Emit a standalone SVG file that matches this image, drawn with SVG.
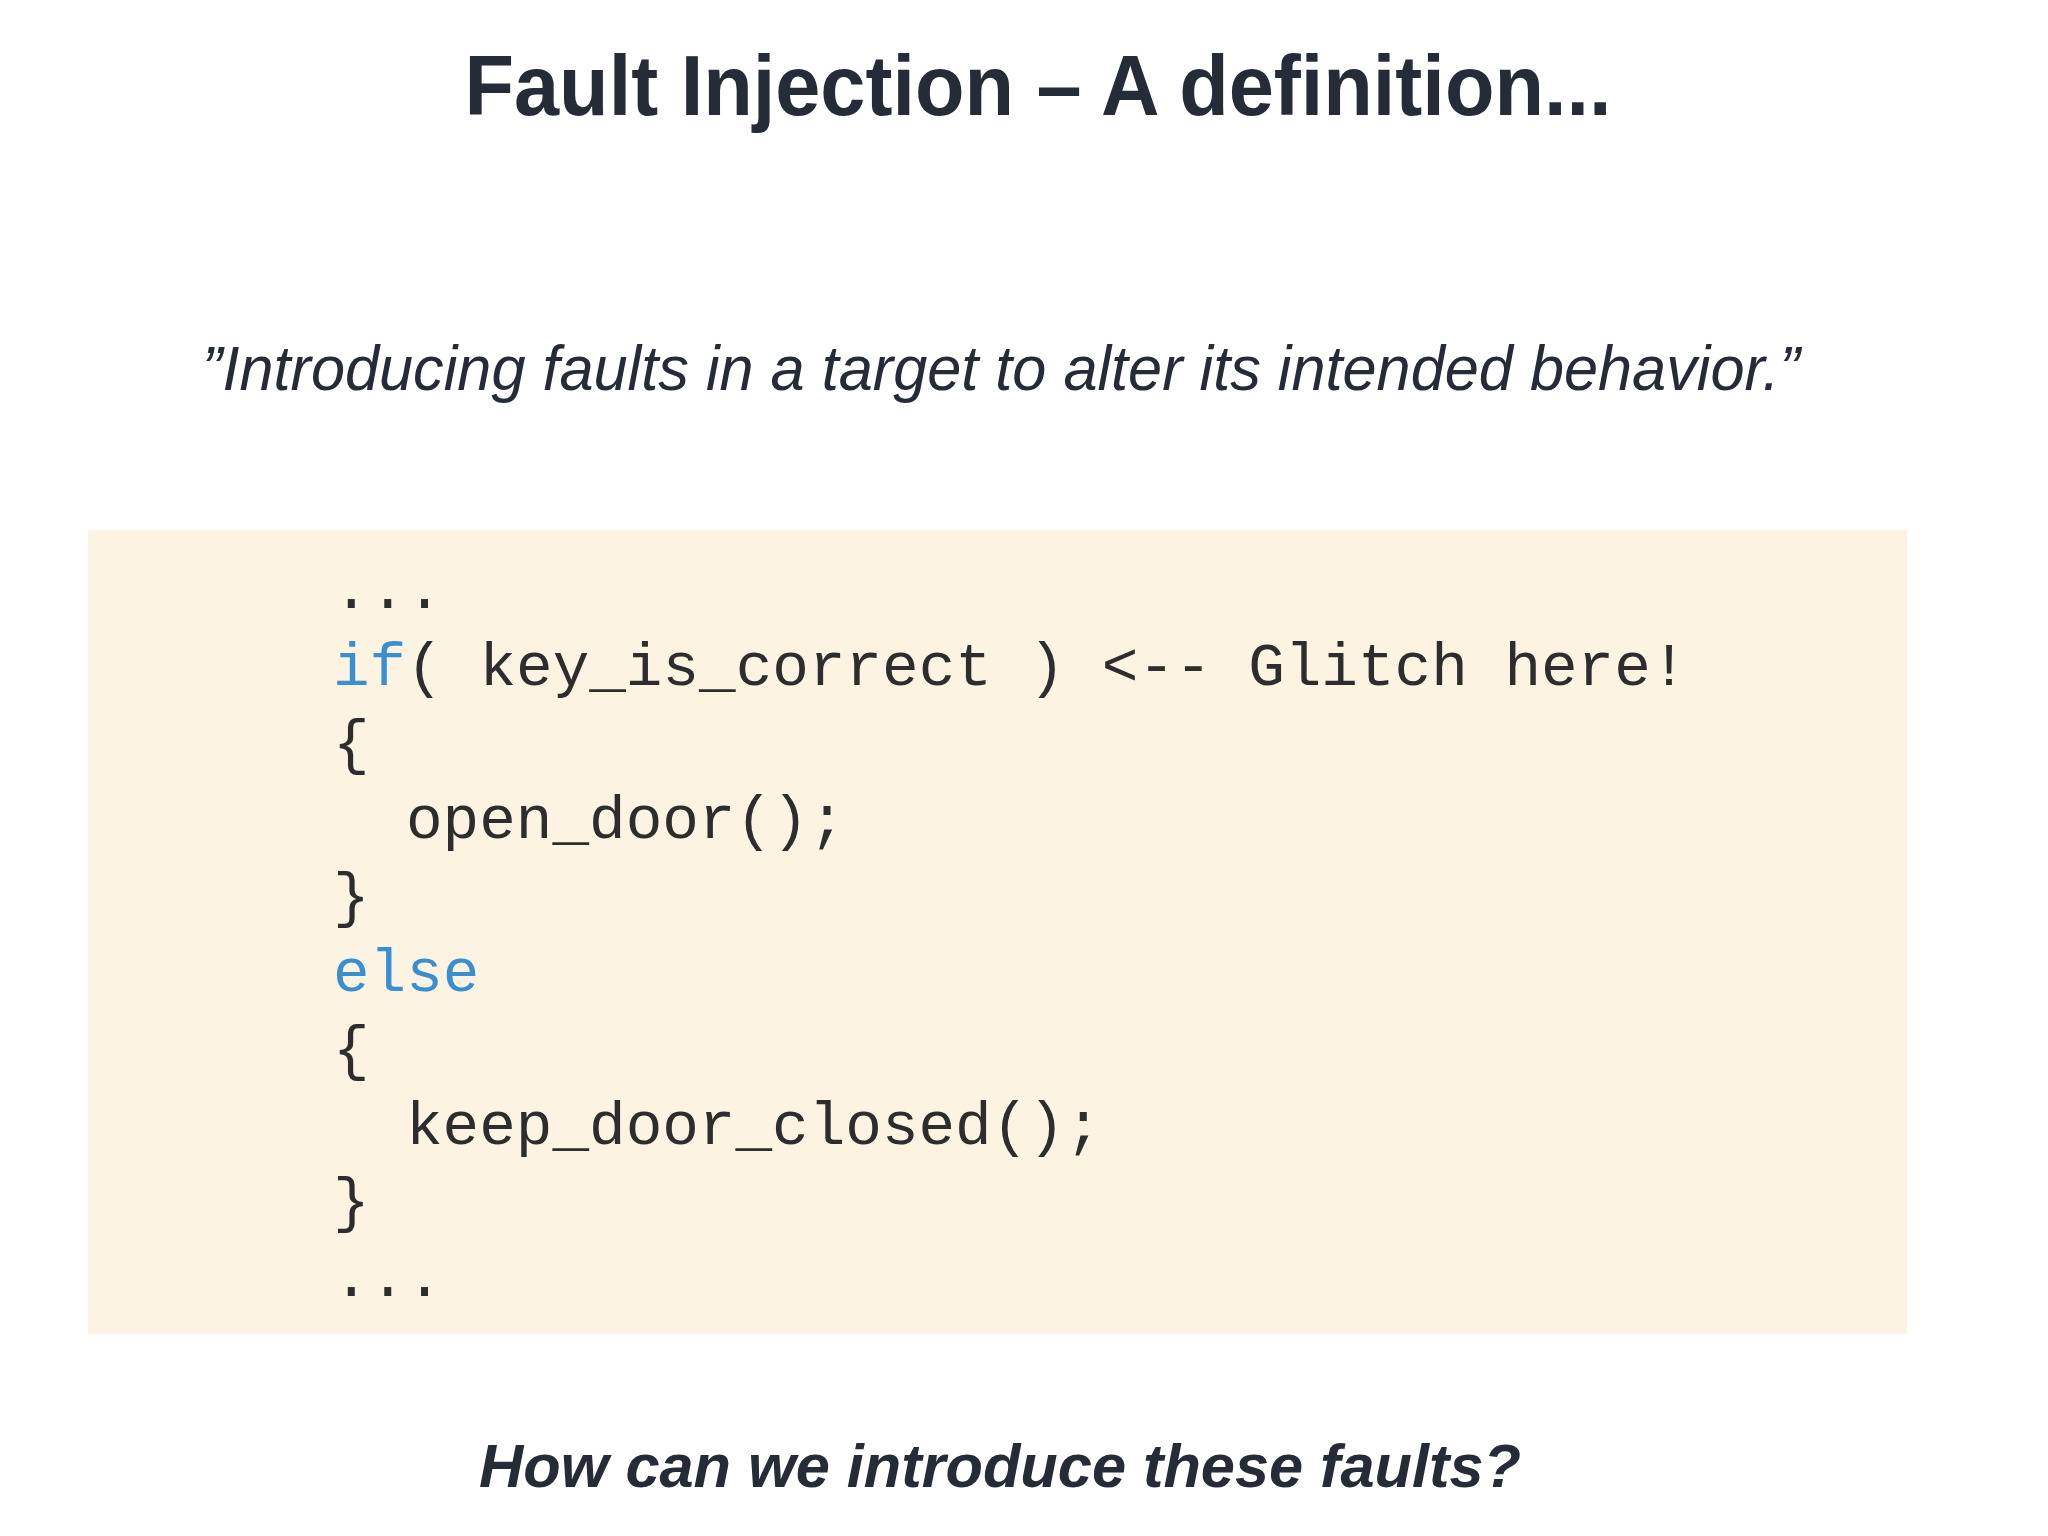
<svg xmlns="http://www.w3.org/2000/svg" width="2048" height="1536" viewBox="0 0 2048 1536">
<style>
.t{font-family:"Liberation Sans",Arial,sans-serif;fill:#262b38}
.c{font-family:"Liberation Mono","Courier New",monospace;font-size:61px;fill:#2d2d2d}
.k{fill:#3a8fd0}
</style>
<rect width="2048" height="1536" fill="#ffffff"/>
<g id="title"><text class="t" x="1038" y="115" font-size="85" font-weight="bold" text-anchor="middle" textLength="1147" lengthAdjust="spacingAndGlyphs">Fault Injection – A definition...</text></g>
<g id="quote"><text class="t" x="202" y="390" font-size="63" font-style="italic" textLength="1598" lengthAdjust="spacingAndGlyphs">”Introducing faults in a target to alter its intended behavior.”</text></g>
<g id="code">
<rect x="88" y="530" width="1819" height="804" fill="#fdf3e3"/>
<text class="c" x="333" y="608">...</text>
<text class="c" x="333" y="685"><tspan class="k">if</tspan>( key_is_correct ) &lt;-- Glitch here!</text>
<text class="c" x="333" y="762">{</text>
<text class="c" x="406" y="838">open_door();</text>
<text class="c" x="333" y="915">}</text>
<text class="c k" x="333" y="991">else</text>
<text class="c" x="333" y="1068">{</text>
<text class="c" x="406" y="1144">keep_door_closed();</text>
<text class="c" x="333" y="1220">}</text>
<text class="c" x="333" y="1296">...</text>
</g>
<g id="question"><text class="t" x="479" y="1487" font-size="61" font-weight="bold" font-style="italic" textLength="1042" lengthAdjust="spacingAndGlyphs">How can we introduce these faults?</text></g>
</svg>
